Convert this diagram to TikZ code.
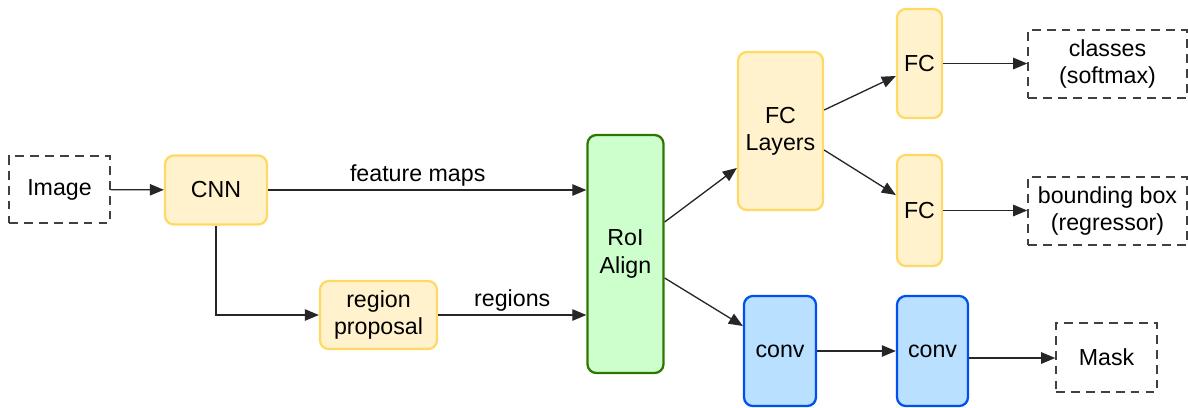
\documentclass[tikz,border=0pt]{standalone}
\usepackage{fontspec}
\setmainfont{Liberation Sans}
\usetikzlibrary{arrows.meta}

\definecolor{yfill}{HTML}{FFF2CC}
\definecolor{yline}{HTML}{FFD966}
\definecolor{gfill}{HTML}{CCFFCC}
\definecolor{gline}{HTML}{2D7600}
\definecolor{bfill}{HTML}{B9E0FF}
\definecolor{bline}{HTML}{0050EF}

\tikzset{
  every node/.style={font=\fontsize{13.2}{15.5}\selectfont, align=center, inner sep=0pt},
  yellowbox/.style={draw=yline, fill=yfill, line width=1.3pt, rounded corners=5pt},
  greenbox/.style={draw=gline, fill=gfill, line width=1.3pt, rounded corners=5pt},
  bluebox/.style={draw=bline, fill=bfill, line width=1.3pt, rounded corners=5pt},
  iobox/.style={draw=black!75, line width=0.85pt, dash pattern=on 5pt off 3.5pt},
  conn/.style={draw=black!85, line width=0.75pt, -{Triangle[length=8pt,width=6.5pt]}}
}

\begin{document}
\begin{tikzpicture}[x=0.02cm, y=-0.02cm]
  \useasboundingbox (0,0) rectangle (1188,407);

  % inputs and backbone
  \node[iobox, minimum width=2.02cm, minimum height=1.34cm] (image) at (59.5,189.5) {Image};
  \node[yellowbox, minimum width=2.04cm, minimum height=1.38cm] (cnn) at (216,190) {CNN};
  \node[yellowbox, minimum width=2.34cm, minimum height=1.36cm] (rpn) at (378.5,315) {region\\proposal};
  \node[greenbox, minimum width=1.52cm, minimum height=4.76cm] (roi) at (625.5,254) {RoI\\Align};

  % box head
  \node[yellowbox, minimum width=1.70cm, minimum height=3.16cm] (fcl) at (780.5,131) {FC\\Layers};
  \node[yellowbox, minimum width=0.90cm, minimum height=2.18cm] (fca) at (919.5,63.5) {FC};
  \node[yellowbox, minimum width=0.90cm, minimum height=2.22cm] (fcb) at (919.5,210.5) {FC};
  \node[iobox, minimum width=3.18cm, minimum height=1.36cm] (cls) at (1107.5,64) {classes\\(softmax)};
  \node[iobox, minimum width=3.18cm, minimum height=1.36cm] (bbox) at (1107.5,211) {bounding box\\(regressor)};

  % mask head
  \node[bluebox, minimum width=1.44cm, minimum height=2.20cm] (conva) at (780,351) {conv};
  \node[bluebox, minimum width=1.42cm, minimum height=2.20cm] (convb) at (932.5,351) {conv};
  \node[iobox, minimum width=2.02cm, minimum height=1.38cm] (mask) at (1106.5,357.5) {Mask};

  % connectors
  \draw[conn] (image) -- (cnn);
  \draw[conn] (cnn.east) -- node[above=2pt, pos=0.47] {feature maps} (roi.west |- cnn.east);
  \draw[conn] (cnn.south) -- (cnn.south |- rpn.west) -- (rpn.west);
  \draw[conn] (rpn.east) -- node[above=2pt] {regions} (roi.west |- rpn.east);
  \draw[conn] (roi.east |- 0,222) -- (fcl.west |- 0,168);
  \draw[conn] (roi.east |- 0,278) -- (conva.west |- 0,326);
  \draw[conn] (fcl.east |- 0,110) -- (fca.west |- 0,76);
  \draw[conn] (fcl.east |- 0,150) -- (fcb.west |- 0,195);
  \draw[conn] (fca) -- (fca -| cls.west);
  \draw[conn] (fcb) -- (fcb -| bbox.west);
  \draw[conn] (conva) -- (convb);
  \draw[conn] (convb.east |- 0,358) -- (mask.west |- 0,358);
\end{tikzpicture}
\end{document}
